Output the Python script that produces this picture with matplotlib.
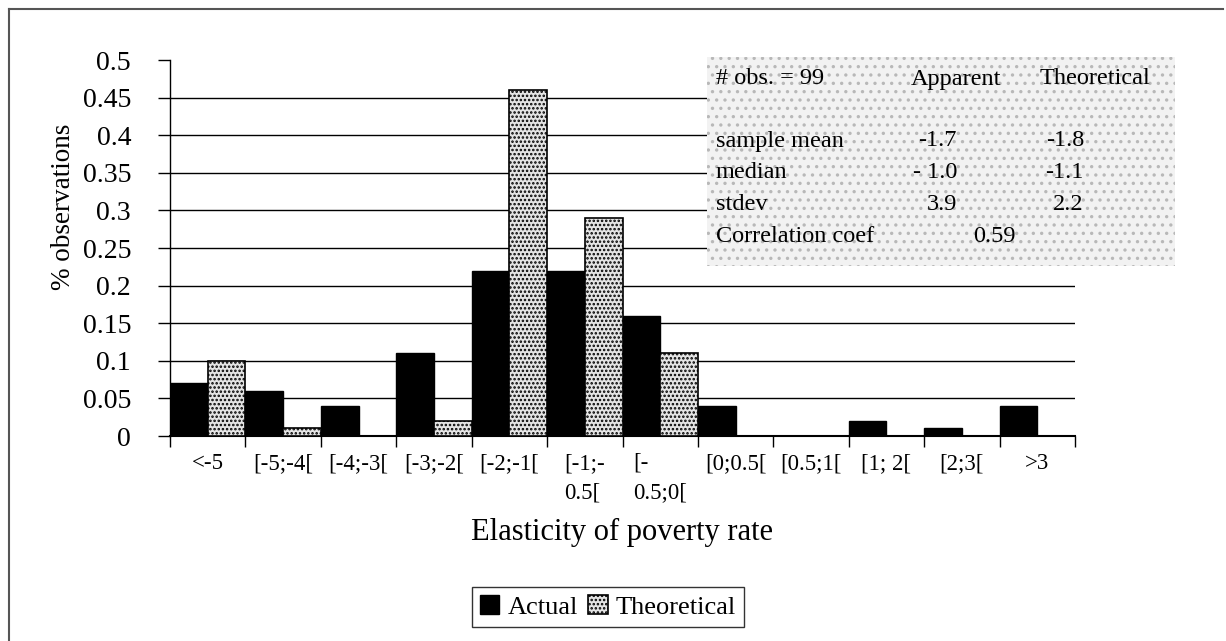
import matplotlib
matplotlib.use("Agg")
from matplotlib import pyplot as plt
from matplotlib.lines import Line2D
from matplotlib.patches import Rectangle
import numpy as np

# данные
categories = ["<-5", "[-5;-4[", "[-4;-3[", "[-3;-2[", "[-2;-1[", "[-1;-\n0.5[",
              "[-\n0.5;0[", "[0;0.5[", "[0.5;1[", "[1; 2[", "[2;3[", ">3"]
actual = [0.07, 0.06, 0.04, 0.11, 0.22, 0.22, 0.16, 0.04, 0.0, 0.02, 0.01, 0.04]
theoretical = [0.10, 0.01, 0.0, 0.02, 0.46, 0.29, 0.11, 0.0, 0.0, 0.0, 0.0, 0.0]
y_ticks = [0, 0.05, 0.1, 0.15, 0.2, 0.25, 0.3, 0.35, 0.4, 0.45, 0.5]
y_labels = ["0", "0.05", "0.1", "0.15", "0.2", "0.25", "0.3", "0.35", "0.4", "0.45", "0.5"]

stats_rows = ["sample mean", "median", "stdev"]
stats_apparent = ["-1.7", "- 1.0", "3.9"]
stats_theoretical = ["-1.8", "-1.1", "2.2"]
n_obs = 99
corr = "0.59"

plt.rcParams['font.family'] = ['Liberation Serif', 'DejaVu Serif']
plt.rcParams['hatch.linewidth'] = 1.2

W, H = 1226, 641
fig = plt.figure(figsize=(W / 100, H / 100), dpi=100)
ax = fig.add_axes([170 / W, 1 - 436 / H, (1075 - 170) / W, (436 - 60) / H])

x = np.arange(len(categories))
ax.bar(x + 0.25, actual, width=0.5, color="black", edgecolor="black", lw=1, label="Actual", zorder=3)
ax.bar(x + 0.75, theoretical, width=0.5, color="#e4e4e4", edgecolor="black", hatch="....",
       lw=1.2, label="Theoretical", zorder=3)

ax.set_xlim(0, len(categories))
ax.set_ylim(0, 0.5)

# сетка
for v in y_ticks[1:-1]:
    ax.axhline(v, color="black", lw=1, zorder=1)

ax.set_yticks(y_ticks)
ax.set_yticklabels(y_labels, fontsize=20)
ax.set_xticks(np.arange(len(categories) + 1))
ax.set_xticklabels([])
ax.set_xticks(x + 0.5, minor=True)
ax.set_xticklabels(categories, minor=True, fontsize=16.5, linespacing=1.55)
ax.tick_params(axis="x", which="major", direction="out", length=8, width=1)
ax.tick_params(axis="x", which="minor", length=0, pad=12)
ax.tick_params(axis="y", direction="out", length=9, width=1, pad=19)
for lab in ax.get_xticklabels(minor=True):
    lab.set_verticalalignment("top")
    lab.set_multialignment("left")

for s in ["top", "right"]:
    ax.spines[s].set_visible(False)
ax.spines["left"].set_linewidth(1)
ax.spines["bottom"].set_linewidth(1.5)

fig.text(622 / W, 1 - 532 / H, "Elasticity of poverty rate", fontsize=22, ha="center", va="center")
fig.text(63 / W, 1 - 207 / H, "% observations", rotation=90, fontsize=19.5, ha="center", va="center")

# табличка со статистикой
fig.patches.append(Rectangle((707 / W, 1 - 266 / H), (1175 - 707) / W, (266 - 57) / H,
                             transform=fig.transFigure, facecolor="#f2f2f2",
                             edgecolor="#b8b8b8", hatch="..", lw=0, zorder=5))
fs = 17.5
tk = dict(fontsize=fs, zorder=6, va="center")
fig.text(716 / W, 1 - 79 / H, "# obs. = %d" % n_obs, **tk)
fig.text(911 / W, 1 - 79 / H, "Apparent", **tk)
fig.text(1040 / W, 1 - 79 / H, "Theoretical", **tk)
for i, name in enumerate(stats_rows):
    yy = 1 - (141 + 32 * i) / H
    fig.text(716 / W, yy, name, **tk)
    fig.text(957 / W, yy, stats_apparent[i], ha="right", fontsize=fs, zorder=6, va="center")
    fig.text(1084 / W, yy, stats_theoretical[i], ha="right", fontsize=fs, zorder=6, va="center")
fig.text(716 / W, 1 - 237 / H, "Correlation coef", **tk)
fig.text(1016 / W, 1 - 237 / H, corr, ha="right", fontsize=fs, zorder=6, va="center")

# легенда
leg = fig.legend(loc="center", bbox_to_anchor=(608 / W, 1 - 607 / H), ncol=2, fontsize=19,
                 frameon=True, fancybox=False, edgecolor="black", handlelength=0.75,
                 handleheight=0.75, handletextpad=0.3, columnspacing=0.4, borderpad=0.3,
                 borderaxespad=0)
leg.get_frame().set_linewidth(1)

# рамка вокруг всего рисунка (только слева и сверху)
fig.add_artist(Line2D([9 / W, 9 / W], [0, 1 - 9 / H], color="#555555", lw=1.5))
fig.add_artist(Line2D([9 / W, 1223 / W], [1 - 9 / H, 1 - 9 / H], color="#555555", lw=1.5))

fig.savefig("out.png", dpi=100)
